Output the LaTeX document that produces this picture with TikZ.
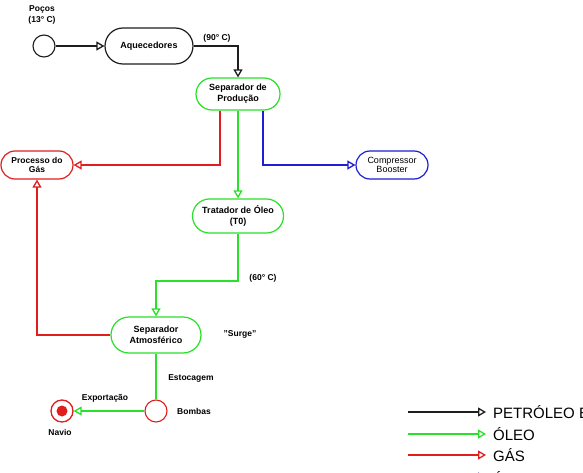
\documentclass[tikz,border=0pt]{standalone}
\usepackage{fontspec}
\setmainfont{Liberation Sans}
\usetikzlibrary{arrows.meta}
\definecolor{cgreen}{RGB}{40,225,40}
\definecolor{cred}{RGB}{225,30,30}
\definecolor{cblue}{RGB}{30,30,210}
\definecolor{cblack}{RGB}{30,30,30}
\tikzset{
  proc/.style={draw, rounded corners=15pt, align=center, inner sep=1pt,
    font=\fontsize{9}{11}\selectfont\bfseries, line width=1.2pt},
  lbl/.style={font=\fontsize{8.5}{10.5}\selectfont\bfseries, align=center, inner sep=0pt},
  flow/.style={line width=1.3pt, -{Triangle[open, length=8pt, width=9pt]}},
  ring/.style={circle, draw, line width=1.1pt, minimum size=22pt, inner sep=0pt},
  legtext/.style={font=\fontsize{15}{17}\selectfont, anchor=west, inner sep=0pt},
}
\begin{document}
\begin{tikzpicture}[x=1pt,y=-1pt]
\useasboundingbox (0,0) rectangle (583,473);
\clip (0,0) rectangle (583,473);
\fill[white] (0,0) rectangle (583,473);
% nodes
\node[ring, draw=cblack] (pocos) at (44,46) {};
\node[lbl] (pocosl) at (42,15) {Poços\\(13° C)};
\node[proc, draw=cblack, minimum width=88pt, minimum height=36pt, rounded corners=18pt] (aq) at (149,46) {Aquecedores};
\node[lbl] (t90) at (217,38) {(90° C)};
\node[proc, draw=cgreen, minimum width=84pt, minimum height=32pt, rounded corners=16pt] (sep) at (238,94) {Separador de\\Produção};
\node[proc, draw=cred, minimum width=72pt, minimum height=28pt, rounded corners=14pt, font=\fontsize{8.5}{9.5}\selectfont\bfseries] (gas) at (37,165) {Processo do\\Gás};
\node[proc, draw=cblue, minimum width=72pt, minimum height=28pt, rounded corners=14pt, font=\fontsize{9}{7.5}\selectfont] (comp) at (392,165) {Compressor\\Booster};
\node[proc, draw=cgreen, minimum width=91pt, minimum height=34pt, rounded corners=17pt] (trat) at (238,216) {Tratador de Óleo\\(T0)};
\node[lbl] (t60) at (263,278) {(60° C)};
\node[proc, draw=cgreen, minimum width=90pt, minimum height=36pt, rounded corners=18pt] (atm) at (156,335) {Separador\\Atmosférico};
\node[lbl] (surge) at (240,334) {"Surge"};
\node[lbl] (esto) at (191,378) {Estocagem};
\node[ring, draw=cred] (bomb) at (156,411) {};
\node[lbl] (bombl) at (194,411) {Bombas};
\node[ring, draw=cred, line width=1.3pt] (navio) at (62,411) {};
\node[circle, fill=cred, minimum size=11pt, inner sep=0pt] (navioin) at (62,411) {};
\node[lbl] (naviol) at (60,432) {Navio};
\node[lbl] (expo) at (105,398) {Exportação};
% connectors
\draw[flow, cblack] (pocos) -- (aq);
\draw[flow, cblack] (aq.east) -| (sep.north);
\draw[flow, cred] ([xshift=-18pt]sep.south) |- (gas.east);
\draw[flow, cgreen] (sep.south) -- (trat.north);
\draw[flow, cblue] ([xshift=25pt]sep.south) |- (comp.west);
\coordinate (bend60) at (238,281);
\coordinate (bend60b) at (156,281);
\draw[flow, cgreen] (trat.south) -- (bend60) -- (bend60b) -- (atm.north);
\draw[flow, cred] (atm.west) -| (gas.south);
\draw[line width=1.3pt, cgreen] (atm.south) -- (bomb.north);
\draw[flow, cgreen] (bomb.west) -- (navio.east);
% legend
\coordinate (l1a) at (408,412); \coordinate (l1b) at (486,412);
\coordinate (l2a) at (408,434); \coordinate (l2b) at (486,434);
\coordinate (l3a) at (408,455); \coordinate (l3b) at (486,455);
\coordinate (l4a) at (408,477); \coordinate (l4b) at (486,477);
\draw[flow, cblack] (l1a) -- (l1b);
\draw[flow, cgreen] (l2a) -- (l2b);
\draw[flow, cred] (l3a) -- (l3b);
\draw[flow, cblue] (l4a) -- (l4b);
\node[legtext] (lg1) at (493,412) {PETRÓLEO B};
\node[legtext] (lg2) at (493,434) {ÓLEO};
\node[legtext] (lg3) at (493,455) {GÁS};
\node[legtext] (lg4) at (493,478) {ÁGUA};
\end{tikzpicture}
\end{document}
